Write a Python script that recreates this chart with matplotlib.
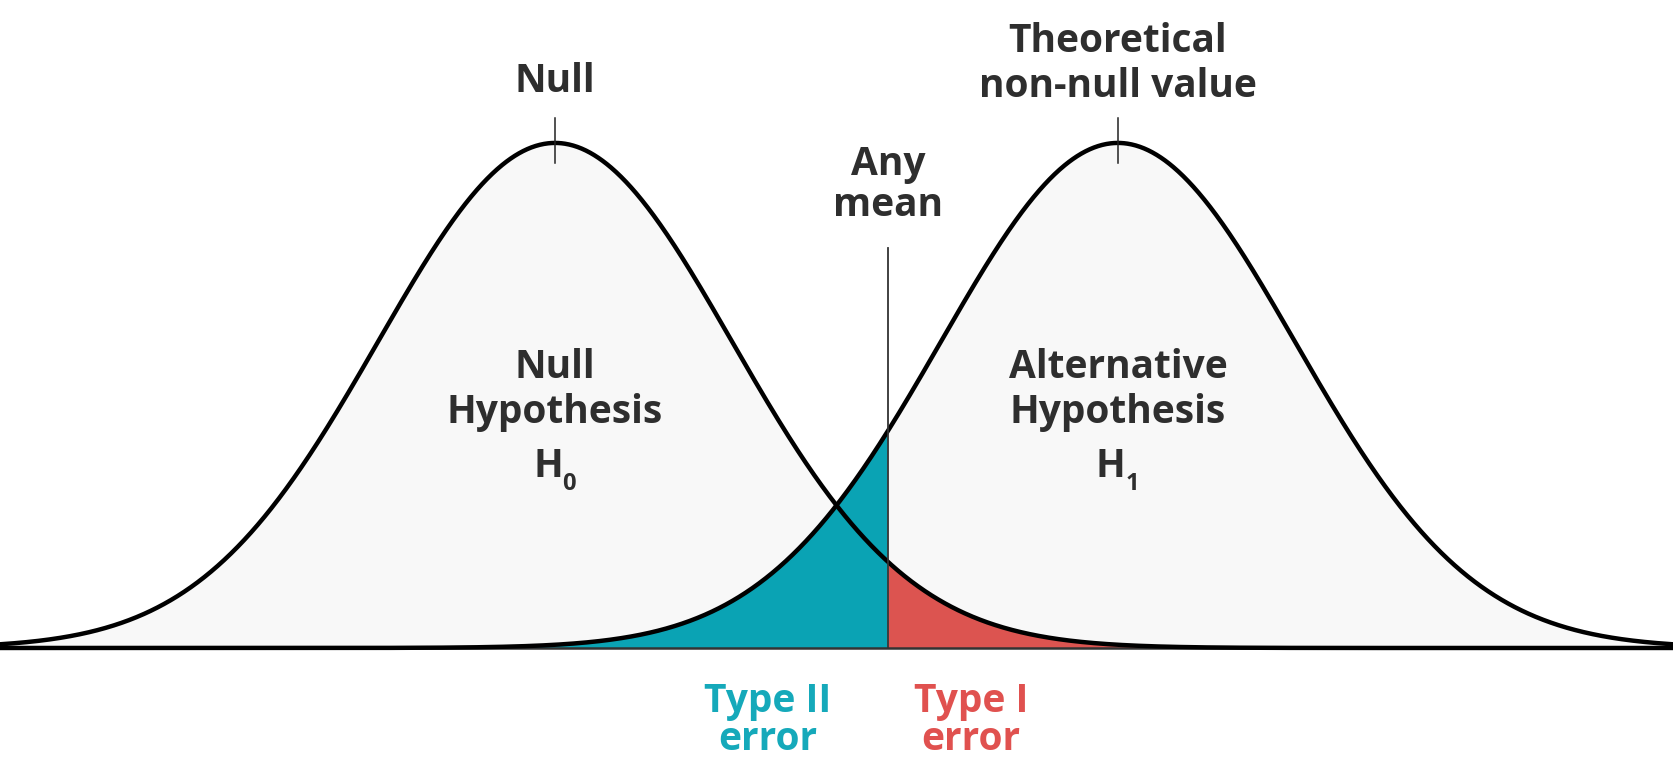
import numpy as np
import matplotlib.pyplot as plt

# distributions (in units of the common standard deviation)
null_mean = 0.0
alt_mean = 3.18
sd = 1.0
threshold = 1.88

x_range = (-3.136, 6.316)

teal = "#0aa3b4"
red = "#dc5450"
ink = "#2e2e2e"
fill_grey = "#f8f8f8"

plt.rcParams['font.family'] = ['Open Sans', 'DejaVu Sans']


def bell(x, mu):
    # normalised so the peak is 1
    return np.exp(-0.5 * ((x - mu) / sd) ** 2)


x = np.linspace(x_range[0], x_range[1], 2000)
y0 = bell(x, null_mean)
y1 = bell(x, alt_mean)

fig = plt.figure(figsize=(16.73, 7.75), dpi=100)
ax = fig.add_axes([0, 0, 1, 1])
ax.set_xlim(*x_range)
ax.set_ylim(-0.2515, 1.283)
ax.axis('off')

# light fill under both curves
ax.fill_between(x, 0, np.maximum(y0, y1), color=fill_grey, zorder=1)

# error areas
left = x <= threshold
right = x >= threshold
ax.fill_between(x[left], 0, y1[left], color=teal, zorder=2, lw=0)
ax.fill_between(x[right], 0, y0[right], color=red, zorder=2, lw=0)

# curves
ax.plot(x, y0, color="black", lw=3.2, zorder=4, solid_capstyle='round')
ax.plot(x, y1, color="black", lw=3.2, zorder=4, solid_capstyle='round')

# baseline
ax.axhline(0, color="#333333", lw=1.8, zorder=3)

# threshold line and peak ticks
ax.plot([threshold, threshold], [0, 0.792], color="#333333", lw=1.3, zorder=5)
for m in (null_mean, alt_mean):
    ax.plot([m, m], [0.96, 1.05], color="#222222", lw=1.1, zorder=5)


def label(xc, yc, text, color=ink, size=28, spacing=1.2):
    ax.text(xc, yc, text, ha='center', va='center', fontsize=size,
            fontweight='bold', color=color, zorder=6, linespacing=spacing)


label(null_mean, 1.122, "Null")
label(alt_mean, 1.156, "Theoretical\nnon-null value", spacing=1.18)
label(threshold, 0.917, "Any\nmean", spacing=1.07)
label(null_mean, 0.511, "Null\nHypothesis", spacing=1.21)
label(alt_mean, 0.511, "Alternative\nHypothesis", spacing=1.21)

# H0 / H1 with subscripts
for m, sub in ((null_mean, "0"), (alt_mean, "1")):
    ax.text(m - 0.04, 0.36, "H", ha='center', va='center', fontsize=28,
            fontweight='bold', color=ink, zorder=6)
    ax.text(m + 0.08, 0.325, sub, ha='center', va='center', fontsize=17,
            fontweight='bold', color=ink, zorder=6)

label(1.203, -0.144, "Type II\nerror", color="#15a9ba", spacing=0.98)
label(2.35, -0.144, "Type I\nerror", color="#e0514f", spacing=0.98)

fig.savefig("out.png", dpi=100)
